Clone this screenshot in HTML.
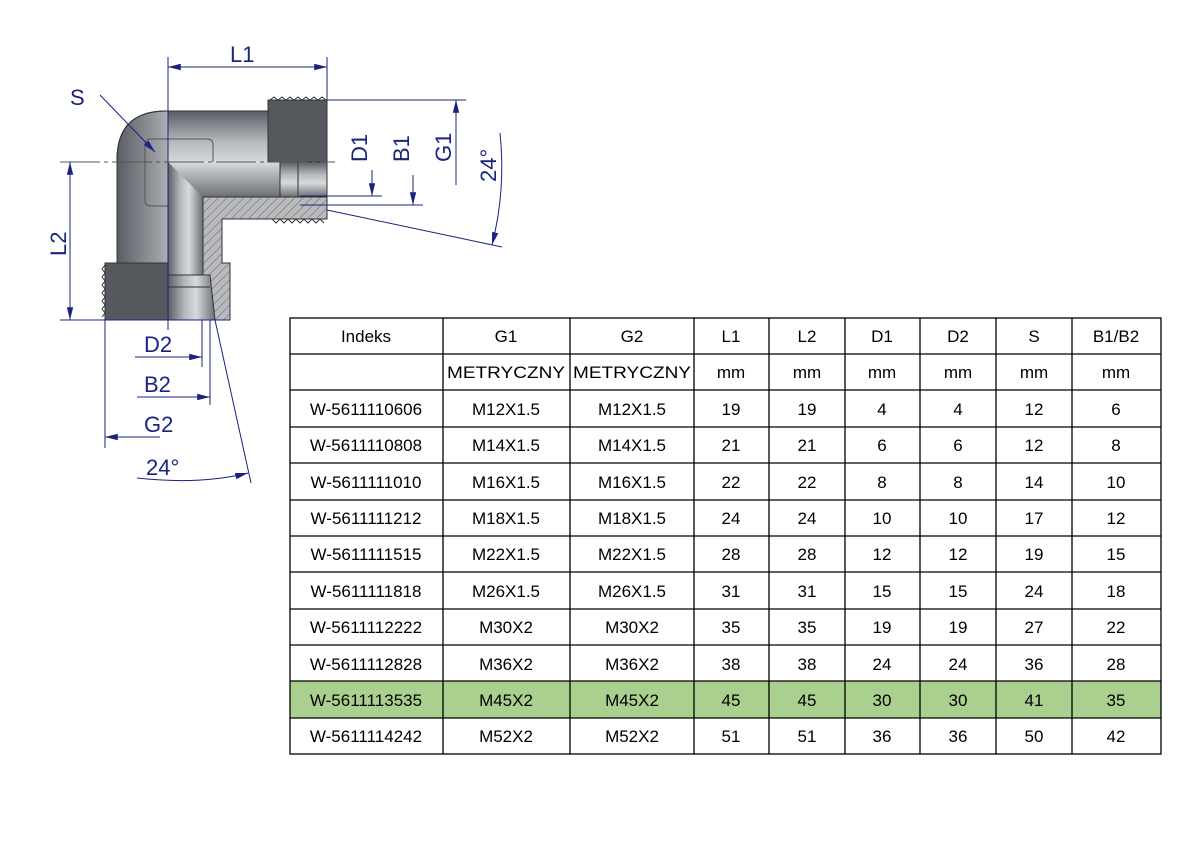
<!DOCTYPE html>
<html><head><meta charset="utf-8"><style>
html,body{margin:0;padding:0;background:#fff;}
body{width:1191px;height:842px;position:relative;overflow:hidden;font-family:"Liberation Sans",Arial,sans-serif;}
svg{position:absolute;left:0;top:0;}
</style></head><body>
<svg width="1191" height="842" viewBox="0 0 1191 842" xmlns="http://www.w3.org/2000/svg">
<defs>
<linearGradient id="gh" x1="0" y1="0" x2="0" y2="1">
<stop offset="0" stop-color="#5a5d63"/><stop offset="0.35" stop-color="#b4b7bc"/><stop offset="0.6" stop-color="#d8dadd"/><stop offset="1" stop-color="#6b6e73"/>
</linearGradient>
<linearGradient id="gv" x1="0" y1="0" x2="1" y2="0">
<stop offset="0" stop-color="#5a5d63"/><stop offset="0.35" stop-color="#b4b7bc"/><stop offset="0.6" stop-color="#d8dadd"/><stop offset="1" stop-color="#6b6e73"/>
</linearGradient>
<pattern id="hatch" width="6" height="6" patternUnits="userSpaceOnUse" patternTransform="rotate(45)">
<rect width="6" height="6" fill="#b9babd"/><line x1="0" y1="0" x2="0" y2="6" stroke="#6a6a6a" stroke-width="1"/>
</pattern>
<marker id="ar" viewBox="0 0 16 10" refX="16" refY="5" markerWidth="16" markerHeight="8" orient="auto-start-reverse" markerUnits="userSpaceOnUse"><path d="M0,1 L16,5 L0,9 z" fill="#1a237e"/></marker>
</defs>

<g stroke="#333" stroke-width="1">
<path d="M117,320 L117,160 Q117,111 166,111 L280,111 L280,197 L203,197 L203,320 Z" fill="url(#gv)"/>
<rect x="168" y="111" width="112" height="86" fill="url(#gh)" stroke="none"/>
<path d="M168,162 L203,197 L203,320 L168,320 Z" fill="url(#gv)" stroke="none"/>
<path d="M117,320 L117,160 Q117,111 166,111 L268,111" fill="none"/>
<path d="M145,145 L145,200 Q145,206 151,206 L168,206 M145,145 Q145,139 151,139 L207,139 Q213,139 213,145 L213,162" fill="none" stroke="#555"/>
<rect x="268" y="100" width="59" height="62" fill="#55585d"/>
<path d="M270,100 l4,-3 4,3 4,-3 4,3 4,-3 4,3 4,-3 4,3 4,-3 4,3 4,-3 4,3 4,-3 4,3" fill="none"/>
<rect x="280" y="162" width="47" height="35" fill="url(#gh)"/>
<line x1="298" y1="162" x2="298" y2="204"/>
<path d="M203,197 L327,197 L327,219 L222,219 L222,263 L230,263 L230,320 L213,320 L203,320 Z" fill="url(#hatch)"/>
<path d="M272,219 l4,4 4,-4 4,4 4,-4 4,4 4,-4 4,4 4,-4 4,4 4,-4 4,4 4,-4 4,4" fill="none"/>
<rect x="105" y="263" width="63" height="57" fill="#55585d"/>
<path d="M105,265 l-3,4 3,4 -3,4 3,4 -3,4 3,4 -3,4 3,4 -3,4 3,4 -3,4 3,4 -3,4" fill="none"/>
<path d="M168,275 L210,275 L215,320 L168,320 Z" fill="url(#gv)"/>
<line x1="168" y1="287" x2="210" y2="287"/>
<line x1="168" y1="162" x2="168" y2="320" stroke="#444"/>
</g>

<g stroke="#1a237e" stroke-width="1" fill="none">
<line x1="60" y1="162" x2="335" y2="162" stroke="#555" stroke-dasharray="40,4,4,4"/>
<line x1="168" y1="57" x2="168" y2="330"/>
<line x1="327" y1="57" x2="327" y2="100"/>
<line x1="168" y1="67" x2="327" y2="67" marker-start="url(#ar)" marker-end="url(#ar)"/>
<line x1="100" y1="95" x2="155" y2="152" marker-end="url(#ar)"/>
<line x1="60" y1="320" x2="230" y2="320"/>
<line x1="70" y1="162" x2="70" y2="320" marker-start="url(#ar)" marker-end="url(#ar)"/>
<line x1="327" y1="100" x2="466" y2="100"/>
<line x1="456" y1="185" x2="456" y2="100" marker-end="url(#ar)"/>
<line x1="300" y1="196" x2="382" y2="196"/>
<line x1="372" y1="170" x2="372" y2="196" marker-end="url(#ar)"/>
<line x1="300" y1="205" x2="423" y2="205"/>
<line x1="413" y1="175" x2="413" y2="205" marker-end="url(#ar)"/>
<line x1="327" y1="210" x2="502" y2="247"/>
<path d="M500,133 Q506,190 492,245" marker-end="url(#ar)"/>
<line x1="202" y1="320" x2="202" y2="367"/>
<line x1="135" y1="357" x2="202" y2="357" marker-end="url(#ar)"/>
<line x1="210" y1="320" x2="210" y2="405"/>
<line x1="137" y1="397" x2="210" y2="397" marker-end="url(#ar)"/>
<line x1="105" y1="320" x2="105" y2="448"/>
<line x1="160" y1="437" x2="105" y2="437" marker-end="url(#ar)"/>
<line x1="215" y1="320" x2="251" y2="483"/>
<path d="M137,478 Q200,485 248,473" marker-end="url(#ar)"/>
</g>
<g fill="#1a237e" font-size="22" font-family="Liberation Sans,Arial,sans-serif">
<text x="230" y="62">L1</text>
<text x="70" y="105">S</text>
<text x="144" y="352">D2</text>
<text x="144" y="392">B2</text>
<text x="144" y="432">G2</text>
<text x="146" y="475">24°</text>
<text transform="translate(66,256) rotate(-90)">L2</text>
<text transform="translate(367,162) rotate(-90)">D1</text>
<text transform="translate(409,162) rotate(-90)">B1</text>
<text transform="translate(451,162) rotate(-90)">G1</text>
<text transform="translate(496,182) rotate(-90)">24°</text>
</g>

<rect x="290" y="681" width="871" height="37" fill="#a9d08e"/>
<g stroke="#000" stroke-width="1.3" fill="none">
<rect x="290" y="318" width="871" height="436"/>
<line x1="290" y1="354" x2="1161" y2="354"/>
<line x1="290" y1="390" x2="1161" y2="390"/>
<line x1="290" y1="427" x2="1161" y2="427"/>
<line x1="290" y1="463" x2="1161" y2="463"/>
<line x1="290" y1="500" x2="1161" y2="500"/>
<line x1="290" y1="536" x2="1161" y2="536"/>
<line x1="290" y1="572" x2="1161" y2="572"/>
<line x1="290" y1="609" x2="1161" y2="609"/>
<line x1="290" y1="645" x2="1161" y2="645"/>
<line x1="290" y1="681" x2="1161" y2="681"/>
<line x1="290" y1="718" x2="1161" y2="718"/>
<line x1="443" y1="318" x2="443" y2="754"/>
<line x1="570" y1="318" x2="570" y2="754"/>
<line x1="694" y1="318" x2="694" y2="754"/>
<line x1="769" y1="318" x2="769" y2="754"/>
<line x1="845" y1="318" x2="845" y2="754"/>
<line x1="920" y1="318" x2="920" y2="754"/>
<line x1="996" y1="318" x2="996" y2="754"/>
<line x1="1072" y1="318" x2="1072" y2="754"/>
</g>
<g font-size="17" fill="#000" text-anchor="middle" font-family="Liberation Sans,Arial,sans-serif">
<g transform="translate(0,342)"><text x="366">Indeks</text><text x="506">G1</text><text x="632">G2</text><text x="731">L1</text><text x="807">L2</text><text x="882">D1</text><text x="958">D2</text><text x="1034">S</text><text x="1116">B1/B2</text></g>
<g transform="translate(0,378)"><text x="506" textLength="118" lengthAdjust="spacingAndGlyphs">METRYCZNY</text><text x="632" textLength="118" lengthAdjust="spacingAndGlyphs">METRYCZNY</text><text x="731">mm</text><text x="807">mm</text><text x="882">mm</text><text x="958">mm</text><text x="1034">mm</text><text x="1116">mm</text></g>
<g transform="translate(0,415)"><text x="366">W-5611110606</text><text x="506">M12X1.5</text><text x="632">M12X1.5</text><text x="731">19</text><text x="807">19</text><text x="882">4</text><text x="958">4</text><text x="1034">12</text><text x="1116">6</text></g>
<g transform="translate(0,451)"><text x="366">W-5611110808</text><text x="506">M14X1.5</text><text x="632">M14X1.5</text><text x="731">21</text><text x="807">21</text><text x="882">6</text><text x="958">6</text><text x="1034">12</text><text x="1116">8</text></g>
<g transform="translate(0,488)"><text x="366">W-5611111010</text><text x="506">M16X1.5</text><text x="632">M16X1.5</text><text x="731">22</text><text x="807">22</text><text x="882">8</text><text x="958">8</text><text x="1034">14</text><text x="1116">10</text></g>
<g transform="translate(0,524)"><text x="366">W-5611111212</text><text x="506">M18X1.5</text><text x="632">M18X1.5</text><text x="731">24</text><text x="807">24</text><text x="882">10</text><text x="958">10</text><text x="1034">17</text><text x="1116">12</text></g>
<g transform="translate(0,560)"><text x="366">W-5611111515</text><text x="506">M22X1.5</text><text x="632">M22X1.5</text><text x="731">28</text><text x="807">28</text><text x="882">12</text><text x="958">12</text><text x="1034">19</text><text x="1116">15</text></g>
<g transform="translate(0,597)"><text x="366">W-5611111818</text><text x="506">M26X1.5</text><text x="632">M26X1.5</text><text x="731">31</text><text x="807">31</text><text x="882">15</text><text x="958">15</text><text x="1034">24</text><text x="1116">18</text></g>
<g transform="translate(0,633)"><text x="366">W-5611112222</text><text x="506">M30X2</text><text x="632">M30X2</text><text x="731">35</text><text x="807">35</text><text x="882">19</text><text x="958">19</text><text x="1034">27</text><text x="1116">22</text></g>
<g transform="translate(0,670)"><text x="366">W-5611112828</text><text x="506">M36X2</text><text x="632">M36X2</text><text x="731">38</text><text x="807">38</text><text x="882">24</text><text x="958">24</text><text x="1034">36</text><text x="1116">28</text></g>
<g transform="translate(0,706)"><text x="366">W-5611113535</text><text x="506">M45X2</text><text x="632">M45X2</text><text x="731">45</text><text x="807">45</text><text x="882">30</text><text x="958">30</text><text x="1034">41</text><text x="1116">35</text></g>
<g transform="translate(0,742)"><text x="366">W-5611114242</text><text x="506">M52X2</text><text x="632">M52X2</text><text x="731">51</text><text x="807">51</text><text x="882">36</text><text x="958">36</text><text x="1034">50</text><text x="1116">42</text></g>
</g>
</svg>
</body></html>
